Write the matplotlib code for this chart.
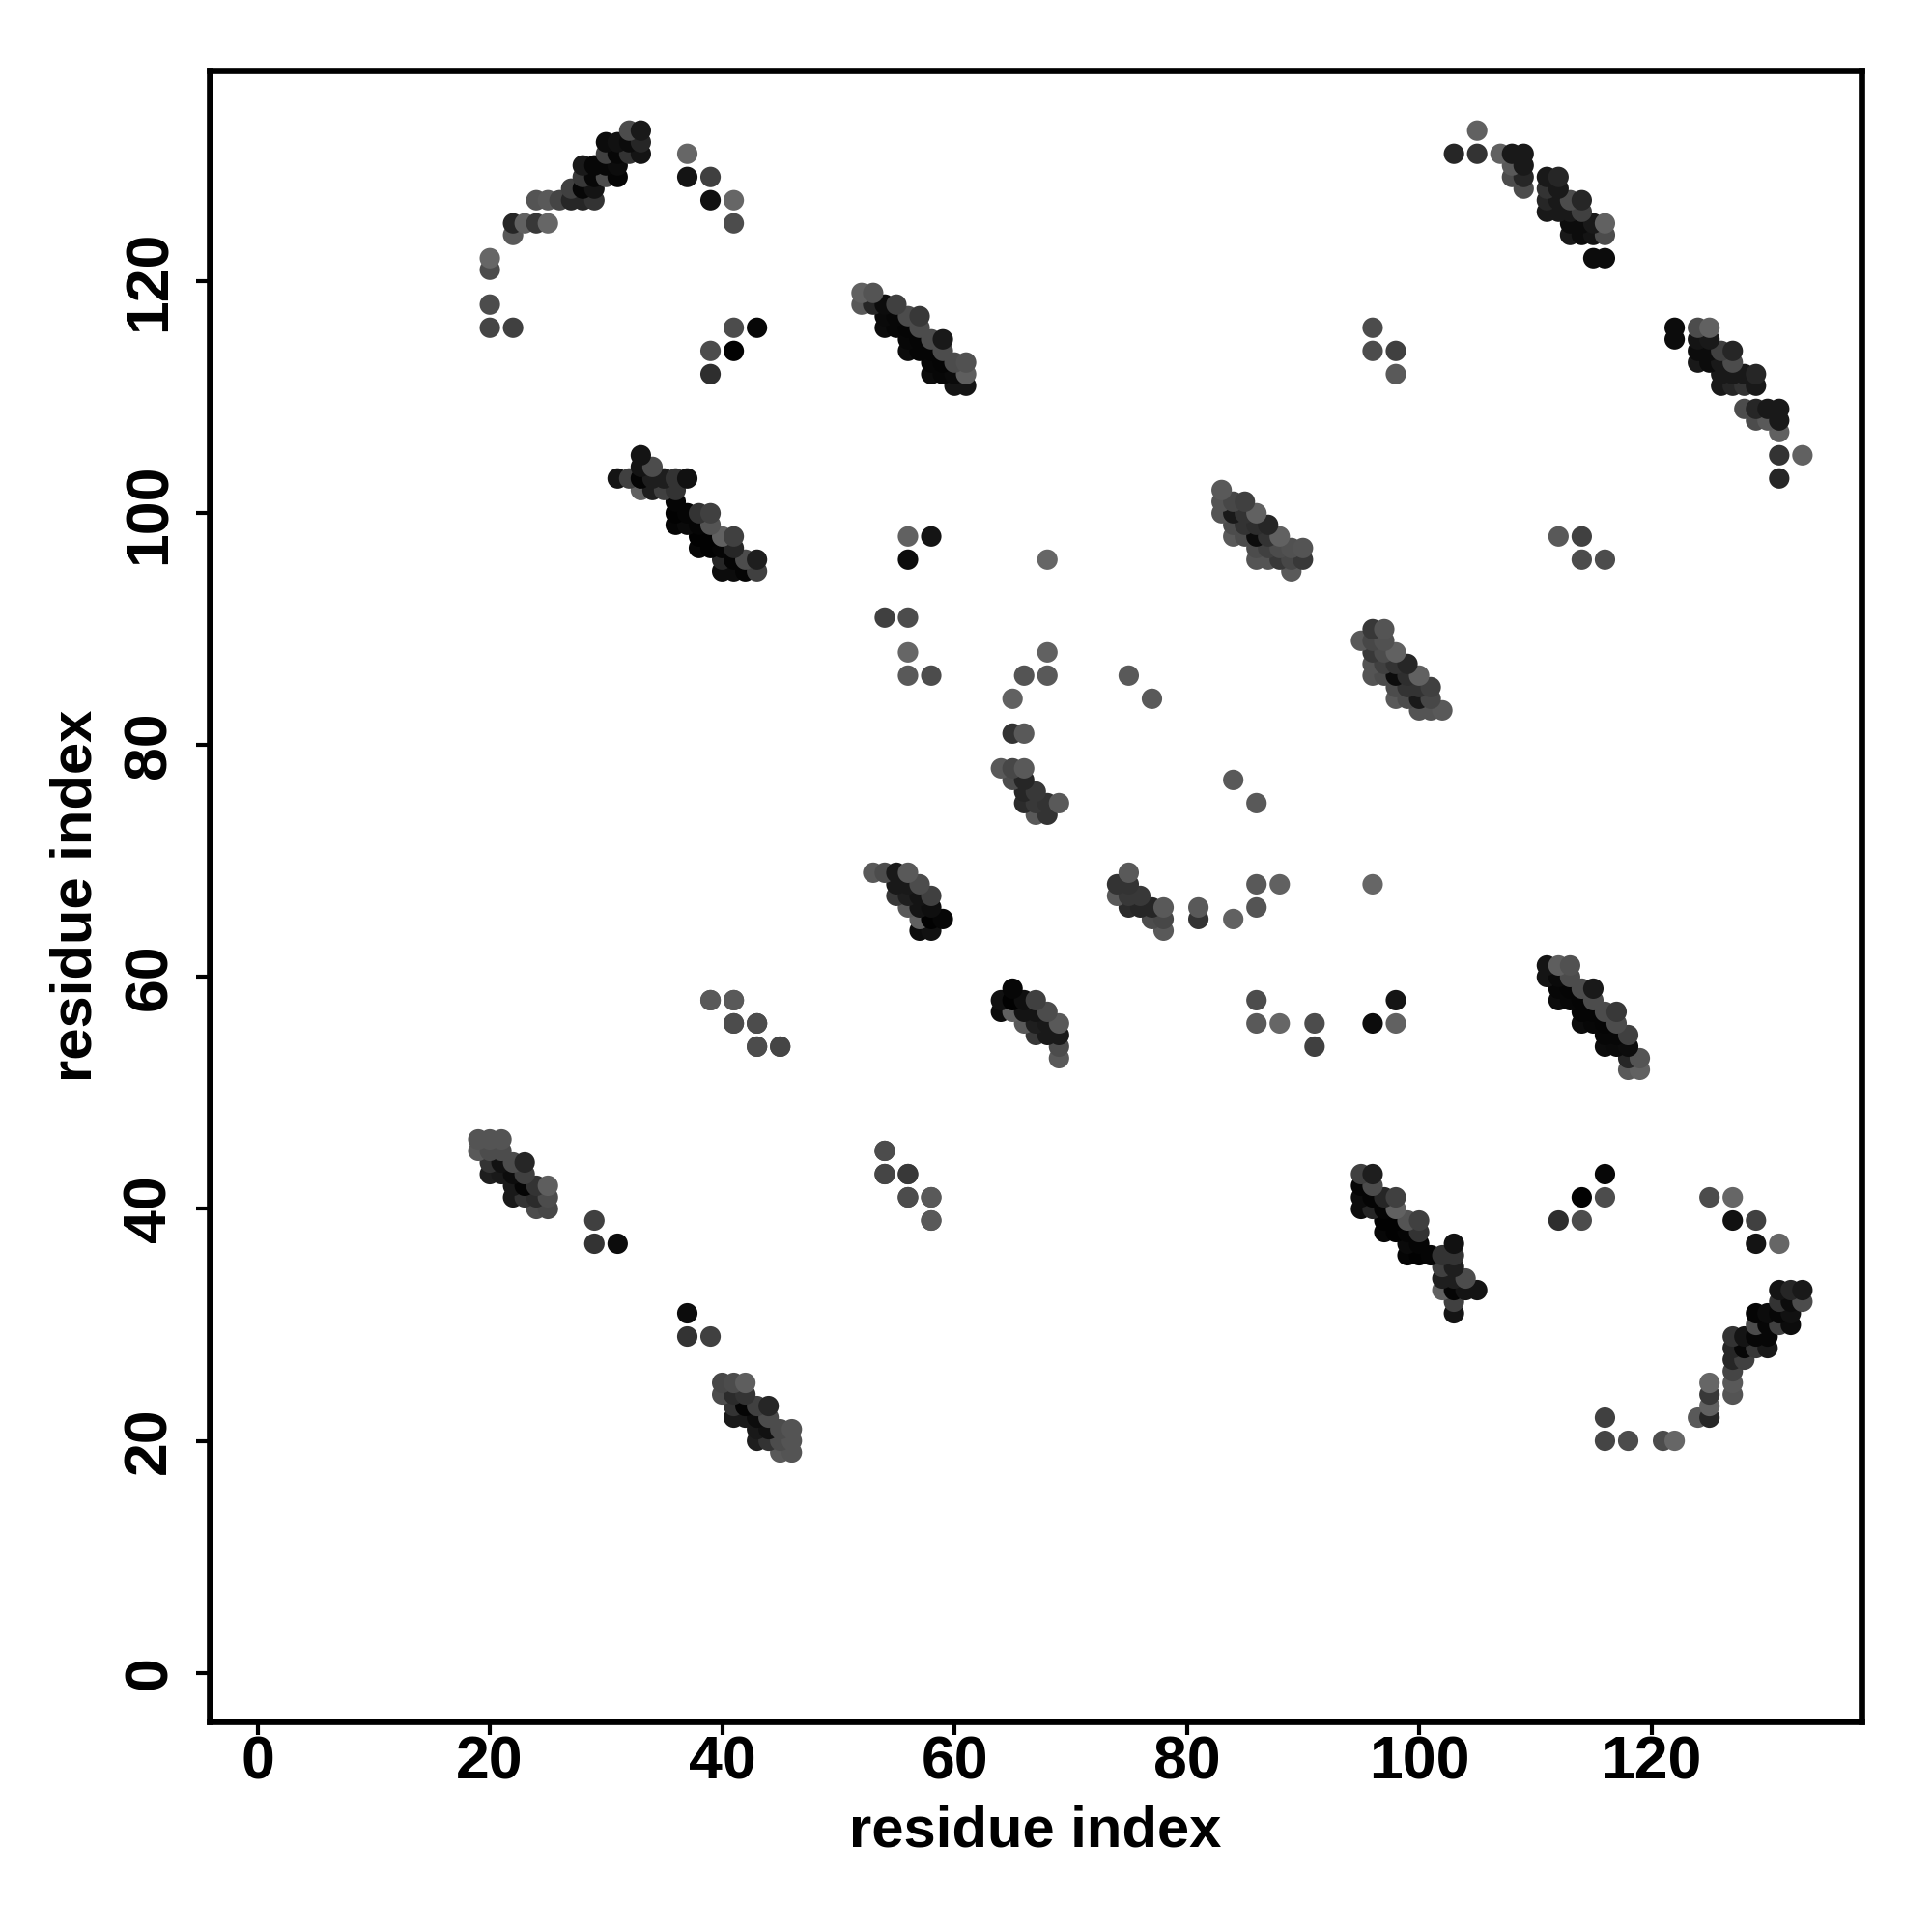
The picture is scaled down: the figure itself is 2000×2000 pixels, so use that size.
from matplotlib import pyplot as plt
import numpy as np

plt.rcParams['font.family'] = ['Liberation Sans', 'DejaVu Sans']

# contacts above the diagonal: (residue i, residue j, grey level), the map is symmetric
arc_left = [(20, 116, .27), (22, 116, .25), (20, 118, .30), (20, 121, .30), (20, 122, .40),
            (22, 124, .35), (22, 125, .15), (23, 125, .38), (24, 125, .22), (25, 125, .40),
            (24, 127, .33), (25, 127, .35), (26, 127, .27), (27, 127, .15), (28, 127, .15), (29, 127, .20),
            (27, 128, .25), (28, 128, .03), (29, 128, .08),
            (28, 129, .22), (29, 129, .03), (30, 129, .30), (31, 129, .02),
            (28, 130, .10), (29, 130, .03), (30, 130, .03), (31, 130, .05),
            (30, 131, .25), (31, 131, .03), (32, 131, .20), (33, 131, .08),
            (30, 132, .05), (31, 132, .07), (32, 132, .05), (33, 132, .15),
            (32, 133, .30), (33, 133, .10)]

arc_left_pairs = [(37, 131, .40), (37, 129, .08), (39, 129, .25), (39, 127, .07), (41, 127, .40), (41, 125, .30),
                  (41, 116, .30), (43, 116, .03), (39, 114, .30), (41, 114, .01), (39, 112, .18)]

strand_b = [(52, 119, .38), (53, 119, .33),
            (52, 118, .35), (53, 118, .15), (54, 118, .05), (55, 118, .25),
            (54, 117, .04), (55, 117, .03), (56, 117, .30), (57, 117, .22),
            (54, 116, .05), (55, 116, .03), (56, 116, .02), (57, 116, .30),
            (56, 115, .03), (57, 115, .02), (58, 115, .30), (59, 115, .10),
            (56, 114, .05), (57, 114, .02), (58, 114, .02), (59, 114, .30),
            (58, 113, .03), (59, 113, .02), (60, 113, .30), (61, 113, .32),
            (58, 112, .05), (59, 112, .03), (60, 112, .04), (61, 112, .37),
            (60, 111, .08), (61, 111, .08)]

strand_c = [(31, 103, .08), (32, 103, .25), (33, 105, .08), (33, 104, .08), (33, 103, .02), (33, 102, .38),
            (34, 104, .30), (34, 103, .12), (34, 102, .12), (35, 103, .12), (35, 102, .25),
            (36, 103, .20), (36, 102, .20), (36, 101, .02), (36, 100, .01), (36, 99, .02),
            (37, 103, .07), (37, 100, .02), (37, 99, .04),
            (38, 100, .20), (38, 99, .02), (38, 98, .01), (38, 97, .03),
            (39, 100, .25), (39, 99, .33), (39, 98, .01), (39, 97, .01),
            (40, 98, .38), (40, 97, .02), (40, 96, .15), (40, 95, .05),
            (41, 98, .25), (41, 97, .15), (41, 96, .02), (41, 95, .05),
            (42, 96, .30), (42, 95, .02), (43, 96, .12), (43, 95, .25)]

strand_d = [(83, 102, .35), (83, 101, .33), (83, 100, .33),
            (84, 101, .28), (84, 100, .10), (84, 99, .30), (84, 98, .35),
            (85, 101, .25), (85, 100, .20), (85, 99, .20), (85, 98, .30),
            (86, 100, .38), (86, 99, .18), (86, 98, .05), (86, 97, .30), (86, 96, .33),
            (87, 99, .15), (87, 98, .20), (87, 97, .25), (87, 96, .33),
            (88, 98, .38), (88, 97, .30), (88, 96, .22),
            (89, 97, .32), (89, 96, .28), (89, 95, .35), (90, 97, .33), (90, 96, .22)]

strand_f = [(53, 69, .35), (54, 69, .30), (55, 69, .10), (55, 68, .10), (55, 67, .22),
            (56, 69, .35), (56, 68, .10), (56, 67, .12), (56, 66, .35),
            (57, 68, .30), (57, 67, .08), (57, 66, .08), (57, 65, .38), (57, 64, .05),
            (58, 67, .25), (58, 66, .06), (58, 65, .01), (58, 64, .07), (59, 65, .03)]

strand_h = [(64, 78, .35), (65, 78, .28), (65, 77, .30),
            (66, 78, .35), (66, 77, .15), (66, 76, .15), (66, 75, .17),
            (67, 76, .22), (67, 75, .22), (67, 74, .35),
            (68, 75, .20), (68, 74, .20), (69, 75, .35)]

strand_i = [(19, 46, .33), (19, 45, .35), (20, 46, .33), (20, 45, .30), (20, 44, .20), (20, 43, .12),
            (21, 46, .33), (21, 45, .30), (21, 44, .07), (21, 43, .10),
            (22, 44, .30), (22, 43, .05), (22, 42, .10), (22, 41, .10),
            (23, 44, .15), (23, 43, .25), (23, 42, .02), (23, 41, .20),
            (24, 42, .20), (24, 41, .17), (24, 40, .30), (25, 42, .37), (25, 41, .30), (25, 40, .28)]

arc_right = [(103, 131, .15), (105, 131, .20), (105, 133, .38),
             (107, 131, .38), (108, 131, .10), (109, 131, .10),
             (108, 130, .35), (109, 130, .10), (108, 129, .30), (109, 129, .15), (109, 128, .30),
             (111, 129, .10), (112, 129, .15), (111, 128, .20), (112, 128, .10),
             (111, 127, .15), (112, 127, .10), (113, 127, .30), (114, 127, .15),
             (111, 126, .10), (112, 126, .10), (113, 126, .10), (114, 126, .25),
             (113, 125, .05), (114, 125, .05), (115, 125, .10), (116, 125, .38),
             (113, 124, .10), (114, 124, .05), (115, 124, .08), (116, 124, .30),
             (115, 122, .05), (116, 122, .05)]

isolated = [(54, 91, .25), (56, 91, .30), (56, 88, .40), (56, 86, .35), (58, 86, .30),
            (56, 96, .05), (56, 98, .38), (58, 98, .08),
            (68, 96, .40), (68, 88, .38), (66, 86, .33), (68, 86, .35),
            (65, 84, .38), (65, 81, .20), (66, 81, .35), (75, 86, .35), (77, 84, .35),
            (96, 116, .30), (96, 114, .30), (98, 114, .25), (98, 112, .35),
            (39, 58, .35), (41, 58, .35), (41, 56, .30), (43, 56, .22), (43, 54, .27), (45, 54, .30),
            (29, 39, .25), (29, 37, .20), (31, 37, .05),
            (54, 45, .27), (54, 43, .30), (56, 43, .30), (56, 41, .30), (58, 41, .35), (58, 39, .35)]

tick_values = [0, 20, 40, 60, 80, 100, 120]


def draw_contacts():
    groups = [arc_left, arc_left_pairs, strand_b, strand_c, strand_d, strand_f,
              strand_h, strand_i, arc_right, isolated]
    upper = np.array([c for g in groups for c in g])
    # (54, 45) style points are read from the lower half, the mirror gives the rest
    x = np.concatenate([upper[:, 0], upper[:, 1]])
    y = np.concatenate([upper[:, 1], upper[:, 0]])
    grey = np.concatenate([upper[:, 2], upper[:, 2]])
    order = np.lexsort((x, y))

    fig = plt.figure(figsize=(10, 10), dpi=200)
    ax = fig.add_axes([0.1084, 0.109, 0.8552, 0.8546])
    ax.scatter(x[order], y[order], c=grey[order], cmap='gray', vmin=0, vmax=1,
               s=58, linewidths=0, clip_on=False)
    ax.set_xlim(-4.14, 138.1)
    ax.set_ylim(-4.2, 138.2)
    ax.set_xticks(tick_values)
    ax.set_yticks(tick_values)
    ax.tick_params(length=5, width=1.5, labelsize=22.5)
    ax.tick_params(axis='x', pad=0)
    ax.tick_params(axis='y', pad=6.5)
    for label in ax.get_xticklabels():
        label.set_fontweight('bold')
    for label in ax.get_yticklabels():
        label.set_fontweight('bold')
        label.set_rotation(90)
        label.set_va('center')
    for spine in ax.spines.values():
        spine.set_linewidth(2.4)
    ax.set_xlabel('residue index', fontsize=21.5, fontweight='bold', labelpad=5)
    ax.set_ylabel('residue index', fontsize=21.5, fontweight='bold', labelpad=7)
    fig.savefig('out.png')


if __name__ == '__main__':
    draw_contacts()
